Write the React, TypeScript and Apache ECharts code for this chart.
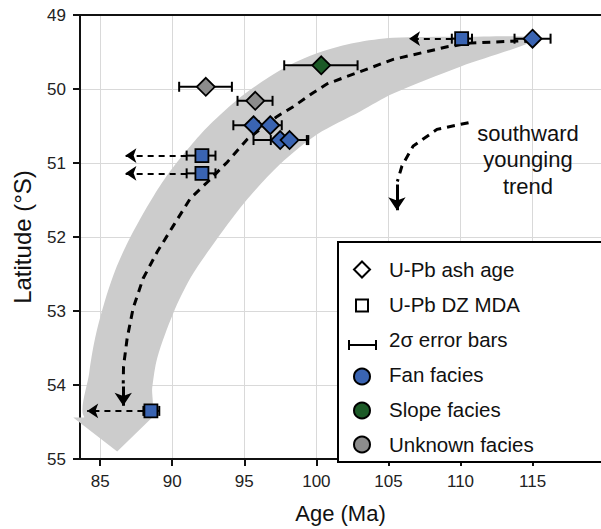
import React, { useEffect, useRef } from 'react';
import * as echarts from 'echarts';

// ---- axis ticks ----
const xTicks = [85, 90, 95, 100, 105, 110, 115];

// ---- facies colours ----
const faciesColor: Record<string, string> = {
  Fan: '#3a64b2',
  Slope: '#1c5a27',
  Unknown: '#8c8c8c',
};

// ---- U-Pb ash ages (diamonds) ----
const ashAge = [115.0, 100.34, 92.33, 95.76, 95.64, 96.8, 97.49, 98.14];
const ashLat = [49.32, 49.68, 49.97, 50.16, 50.49, 50.49, 50.69, 50.69];
const ashLow = [113.75, 97.77, 90.48, 94.53, 94.24, 96.0, 95.64, 96.84];
const ashHigh = [116.25, 102.86, 94.14, 96.96, 97.04, 97.6, 99.34, 99.44];
const ashFacies = ['Fan', 'Slope', 'Unknown', 'Unknown', 'Fan', 'Fan', 'Fan', 'Fan'];

// ---- U-Pb DZ MDA (squares) ----
const mdaAge = [110.08, 92.06, 92.06, 88.52];
const mdaLat = [49.32, 50.9, 51.14, 54.35];
const mdaLow = [109.4, 91.0, 91.0, 88.0];
const mdaHigh = [110.8, 93.0, 93.0, 89.1];
const mdaArrowTo = [106.43, 86.75, 86.75, 84.1];
const mdaFacies = ['Fan', 'Fan', 'Fan', 'Fan'];

// ---- trend curve ----
const trendAge = [114.98, 114.15, 110.68, 109.08, 105.33, 102.83, 100.75, 99.78, 98.39, 97.28, 95.2, 93.81, 92.43, 91.25, 90.07, 88.96, 87.98, 87.29, 86.87, 86.62, 86.6];
const trendLat = [49.36, 49.35, 49.38, 49.43, 49.6, 49.78, 49.93, 50.05, 50.24, 50.37, 50.68, 50.99, 51.26, 51.48, 51.85, 52.2, 52.56, 52.96, 53.37, 53.75, 53.98];
const trendHead = [[86.6, 54.02], [86.6, 54.28]];

// ---- grey band: body outline (outer edge down, inner edge up) ----
const bandAge = [114.98, 109.98, 105.33, 102.7, 100.34, 98.19, 96.24, 94.37, 92.63, 91.25, 89.86, 88.75, 87.78, 86.87, 86.04, 85.28, 84.65, 84.24, 83.96,
  88.47, 88.61, 88.96, 90.07, 91.25, 92.63, 95.06, 97.49, 100.06, 103.04, 105.33, 109.98, 114.98];
const bandLat = [49.295, 49.295, 49.309, 49.376, 49.497, 49.672, 49.9, 50.169, 50.478, 50.773, 51.109, 51.431, 51.754, 52.089, 52.452, 52.895, 53.365, 53.835, 54.44,
  54.333, 54.037, 53.634, 53.03, 52.559, 52.157, 51.525, 51.015, 50.612, 50.303, 50.061, 49.698, 49.363];
// ---- grey band: arrow head ----
const headAge = [83.96, 83.89, 83.13, 86.18, 89.16, 88.47, 88.5];
const headLat = [54.238, 54.44, 54.44, 54.897, 54.333, 54.333, 54.238];

// ---- "southward younging trend" arrow ----
const soAge = [110.56, 108.37, 106.72, 105.94, 105.62];
const soLat = [50.455, 50.545, 50.77, 51.04, 51.25];
const soHead = [[105.59, 51.29], [105.59, 51.64]];

const legendItems = ['U-Pb ash age', 'U-Pb DZ MDA', '2σ error bars', 'Fan facies', 'Slope facies', 'Unknown facies'];
const annotation = ['southward', 'younging', 'trend'];

const FONT = 'Liberation Sans, Arial, sans-serif';

export default function App() {
  const ref = useRef<HTMLDivElement>(null);
  useEffect(() => {
    if (!ref.current) return;
    const chart = echarts.init(ref.current, null, { renderer: 'svg' });

    const errData = [
      ...ashAge.map((a, i) => [a, ashLat[i], ashLow[i], ashHigh[i]]),
      ...mdaAge.map((a, i) => [a, mdaLat[i], mdaLow[i], mdaHigh[i]]),
    ];

    const errRender = (_p: any, api: any) => {
      const y = api.value(1);
      const lo = api.coord([api.value(2), y]);
      const hi = api.coord([api.value(3), y]);
      const h = 5;
      const st = { stroke: '#000', lineWidth: 2 };
      return {
        type: 'group',
        children: [
          { type: 'line', shape: { x1: lo[0], y1: lo[1], x2: hi[0], y2: hi[1] }, style: st },
          { type: 'line', shape: { x1: lo[0], y1: lo[1] - h, x2: lo[0], y2: lo[1] + h }, style: st },
          { type: 'line', shape: { x1: hi[0], y1: hi[1] - h, x2: hi[0], y2: hi[1] + h }, style: st },
        ],
      };
    };

    const bandRender = (_p: any, api: any) => {
      const body = bandAge.map((a, i) => api.coord([a, bandLat[i]]));
      const head = headAge.map((a, i) => api.coord([a, headLat[i]]));
      return {
        type: 'group',
        silent: true,
        children: [
          { type: 'polygon', shape: { points: body, smooth: 0.3 }, style: { fill: '#cccccc' } },
          { type: 'polygon', shape: { points: head }, style: { fill: '#cccccc' } },
        ],
      };
    };

    const lx = 362;
    const ly = [269.5, 305.5, 345, 376.5, 410.5, 444.5];
    const ty = [269.5, 304.5, 339.5, 374.5, 409.5, 444];
    const legendColors = [faciesColor.Fan, faciesColor.Slope, faciesColor.Unknown];
    const stroke = { stroke: '#000', lineWidth: 2 };

    const legendEls: any[] = [
      { type: 'rect', z: 100, shape: { x: 338, y: 242, width: 300, height: 220 }, style: { fill: '#fff', stroke: '#000', lineWidth: 2 } },
      { type: 'polygon', z: 101, shape: { points: [[lx, ly[0] - 8], [lx + 8, ly[0]], [lx, ly[0] + 8], [lx - 8, ly[0]]] }, style: { fill: '#fff', ...stroke } },
      { type: 'rect', z: 101, shape: { x: lx - 6, y: ly[1] - 6, width: 12, height: 12 }, style: { fill: '#fff', ...stroke } },
      { type: 'line', z: 101, shape: { x1: lx - 13, y1: ly[2], x2: lx + 14, y2: ly[2] }, style: stroke },
      { type: 'line', z: 101, shape: { x1: lx - 13, y1: ly[2] - 5, x2: lx - 13, y2: ly[2] + 5 }, style: stroke },
      { type: 'line', z: 101, shape: { x1: lx + 14, y1: ly[2] - 5, x2: lx + 14, y2: ly[2] + 5 }, style: stroke },
      ...legendColors.map((c, i) => ({ type: 'circle', z: 101, shape: { cx: lx, cy: ly[3 + i], r: 8 }, style: { fill: c, ...stroke } })),
      ...legendItems.map((t, i) => ({
        type: 'text', z: 101, x: 389, y: ty[i],
        style: { text: t, fill: '#111', fontSize: 20.5, fontFamily: FONT, align: 'left', verticalAlign: 'middle', textAlign: 'left', textVerticalAlign: 'middle' },
      })),
      {
        type: 'text', z: 50, x: 528, y: 159.5,
        style: { text: annotation.join('\n'), fill: '#111', fontSize: 22, lineHeight: 26.5, fontFamily: FONT, align: 'center', verticalAlign: 'middle', textAlign: 'center', textVerticalAlign: 'middle' },
      },
    ];

    const dashLine = { color: '#000', width: 3, type: [8, 6], opacity: 1 };
    const solidLine = { color: '#000', width: 3, type: 'solid', opacity: 1 };

    const option: any = {
      animation: false,
      backgroundColor: '#fff',
      grid: { left: 80, right: 0, top: 15, bottom: 67, containLabel: false },
      xAxis: [
        {
          type: 'value', min: 83.6, max: 119.75, minInterval: 5, maxInterval: 5,
          name: 'Age (Ma)', nameLocation: 'middle', nameGap: 43,
          nameTextStyle: { fontSize: 22, color: '#111', fontFamily: FONT },
          axisLine: { show: true, onZero: false, lineStyle: { color: '#111', width: 2 } },
          axisTick: { show: true, length: 7, customValues: xTicks, lineStyle: { color: '#111', width: 2 } },
          axisLabel: { customValues: xTicks, fontSize: 17, color: '#222', margin: 14, fontFamily: FONT },
          splitLine: { show: true, lineStyle: { color: '#d9d9d9', width: 1 } },
        },
        {
          type: 'value', position: 'top', min: 83.6, max: 119.75,
          axisLine: { show: true, onZero: false, lineStyle: { color: '#111', width: 2 } },
          axisTick: { show: false }, axisLabel: { show: false }, splitLine: { show: false },
        },
      ],
      yAxis: {
        type: 'value', min: 49, max: 55, interval: 1, inverse: true,
        name: 'Latitude (°S)', nameLocation: 'middle', nameGap: 46,
        nameTextStyle: { fontSize: 24, color: '#111', fontFamily: FONT },
        axisLine: { show: true, onZero: false, lineStyle: { color: '#111', width: 2 } },
        axisTick: { show: true, length: 7, lineStyle: { color: '#111', width: 2 } },
        axisLabel: { fontSize: 17, color: '#222', margin: 14, fontFamily: FONT },
        splitLine: { show: true, lineStyle: { color: '#d9d9d9', width: 1 } },
      },
      graphic: { elements: legendEls },
      series: [
        { type: 'custom', name: 'band', z: 1, renderItem: bandRender, data: [[bandAge[0], bandLat[0]]], silent: true },
        {
          type: 'lines', name: 'trend', coordinateSystem: 'cartesian2d', polyline: true, z: 2,
          lineStyle: dashLine,
          data: [
            { coords: trendAge.map((a, i) => [a, trendLat[i]]) },
            { coords: soAge.map((a, i) => [a, soLat[i]]) },
          ],
        },
        {
          type: 'lines', name: 'arrow heads', coordinateSystem: 'cartesian2d', z: 2,
          symbol: ['none', 'arrow'], symbolSize: 13,
          lineStyle: solidLine,
          data: [{ coords: trendHead }, { coords: soHead }],
        },
        {
          type: 'lines', name: 'mda arrows', coordinateSystem: 'cartesian2d', z: 2,
          symbol: ['none', 'arrow'], symbolSize: 11,
          lineStyle: { color: '#000', width: 2, type: [6, 5], opacity: 1, curveness: 0 },
          data: mdaAge.map((a, i) => ({ coords: [[mdaLow[i], mdaLat[i]], [mdaArrowTo[i], mdaLat[i]]] })),
        },
        { type: 'custom', name: 'errors', z: 3, renderItem: errRender, data: errData, encode: { x: 0, y: 1 } },
        {
          type: 'scatter', name: 'U-Pb ash age', symbol: 'diamond', symbolSize: 18, z: 4,
          data: ashAge.map((a, i) => ({ value: [a, ashLat[i]], itemStyle: { color: faciesColor[ashFacies[i]], borderColor: '#000', borderWidth: 1.8, opacity: 1 } })),
        },
        {
          type: 'scatter', name: 'U-Pb DZ MDA', symbol: 'rect', symbolSize: 13, z: 4,
          data: mdaAge.map((a, i) => ({ value: [a, mdaLat[i]], itemStyle: { color: faciesColor[mdaFacies[i]], borderColor: '#000', borderWidth: 1.8, opacity: 1 } })),
        },
      ],
    };
    chart.setOption(option);
    return () => chart.dispose();
  }, []);
  return <div ref={ref} style={{ position: 'absolute', left: 0, top: 0, width: 601, height: 529 }} />;
}
